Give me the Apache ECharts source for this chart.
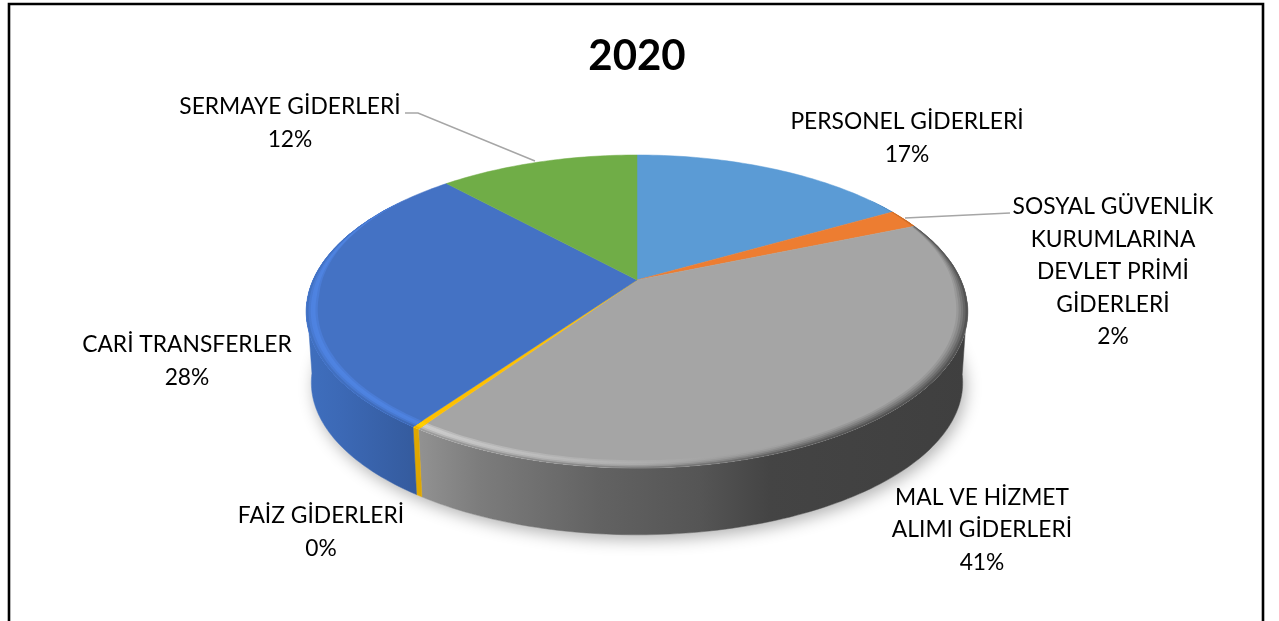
<!DOCTYPE html>
<html>
<head>
<meta charset="utf-8">
<title>2020</title>
<style>
  html, body { margin: 0; padding: 0; background: #fff; }
  #main { width: 1279px; height: 621px; }
</style>
<script src="https://cdn.jsdelivr.net/npm/echarts@6/dist/echarts.min.js"></script>
</head>
<body>
<div id="main"></div>
<script>
const categories = ['PERSONEL GİDERLERİ', 'SOSYAL GÜVENLİK\nKURUMLARINA\nDEVLET PRİMİ\nGİDERLERİ', 'MAL VE HİZMET\nALIMI GİDERLERİ', 'FAİZ GİDERLERİ', 'CARİ TRANSFERLER', 'SERMAYE GİDERLERİ'];
const values = [16.7, 2.0, 40.8, 0.3, 28.4, 11.8];
const faceColors = ['#5B9BD5', '#ED7D31', '#A5A5A5', '#FFC000', '#4472C4', '#70AD47'];
// wall shade along x: [x, colour]
const wallShades = [
  [[300, '#4a80b4'], [970, '#4a80b4']],
  [[300, '#b5601f'], [970, '#b5601f']],
  [[415, '#939393'], [480, '#7c7c7c'], [600, '#626262'], [700, '#555555'], [770, '#444444'], [970, '#3f3f3f']],
  [[300, '#e0a800'], [970, '#d9a300']],
  [[305, '#3f6fbe'], [340, '#3c69b6'], [420, '#345a9c']],
  [[300, '#55883a'], [970, '#55883a']]
];
const highlights = [1.1, 1.1, 1.26, 1.1, 1.16, 1.1];
const labelAnchors = [[907, 138], [1113, 272], [982, 530], [321, 532], [187, 361], [290, 123]];
const leaderLines = [
  [[405, 113], [418, 113], [535, 161]],
  [[905, 218], [1010, 213]]
];

// projected disc: apex of the pie and perspective of the tilted circle
const CX = 637, K = 0.2013;
const TOP = { cy: 280, rx: 324, ry: 150.2 };
const BOTTOM = { cy: 352, rx: 319, ry: 146 };
const BEVEL = 0.04;
// only this part of the side wall faces the viewer (radians from 12 o'clock)
const WALL_FROM = 1.72, WALL_TO = 4.57;

const total = values.reduce((a, b) => a + b, 0);
const angles = [0];
values.forEach(v => angles.push(angles[angles.length - 1] + v / total * Math.PI * 2));

function pt(theta, r, disc) {
  const u = r * Math.sin(theta), v = -r * Math.cos(theta), w = 1 - K * v;
  return [CX + disc.rx * u / w, disc.cy + disc.ry * v / w];
}
function arc(a0, a1, r, disc) {
  const n = Math.max(2, Math.ceil((a1 - a0) / 0.02));
  const pts = [];
  for (let i = 0; i <= n; i++) pts.push(pt(a0 + (a1 - a0) * i / n, typeof r === 'function' ? r(a0 + (a1 - a0) * i / n) : r, disc));
  return pts;
}
function clamp(x) { return Math.max(0, Math.min(1, x)); }
function hex(c) { return [1, 3, 5].map(i => parseInt(c.substr(i, 2), 16)); }
function toHex(a) { return 'rgb(' + a.map(x => Math.round(Math.min(255, x))).join(',') + ')'; }
function mix(a, b, t) { return a.map((x, i) => x + (b[i] - x) * t); }
function shadeAt(list, x) {
  if (x <= list[0][0]) return hex(list[0][1]);
  for (let i = 1; i < list.length; i++) {
    if (x <= list[i][0]) return mix(hex(list[i - 1][1]), hex(list[i][1]), (x - list[i - 1][0]) / (list[i][0] - list[i - 1][0]));
  }
  return hex(list[list.length - 1][1]);
}
function xGradient(x0, x1, stops) {
  return new echarts.graphic.LinearGradient(x0, 0, x1, 0, stops, true);
}

function renderShadow() {
  return {
    type: 'polygon',
    shape: { points: arc(0, Math.PI * 2, 1, BOTTOM) },
    style: { fill: '#fff', shadowColor: 'rgba(0,0,0,0.3)', shadowBlur: 16, shadowOffsetY: 5, shadowOffsetX: 3 },
    silent: true
  };
}

function renderWall(params) {
  const i = params.dataIndex;
  const a0 = Math.max(angles[i], WALL_FROM), a1 = Math.min(angles[i + 1], WALL_TO);
  if (a1 <= a0) return null;
  const pts = arc(a0, a1, 1, TOP).concat(arc(a0, a1, 1, BOTTOM).reverse());
  const shades = wallShades[i];
  const x0 = shades[0][0], x1 = shades[shades.length - 1][0];
  const stops = shades.map(s => ({ offset: (s[0] - x0) / (x1 - x0), color: s[1] }));
  const fill = xGradient(x0, x1, stops);
  return { type: 'polygon', shape: { points: pts }, style: { fill: fill, stroke: fill, lineWidth: 0.5 } };
}

function renderFace(params) {
  const i = params.dataIndex;
  const a0 = angles[i], a1 = angles[i + 1];
  const face = hex(faceColors[i]);
  const children = [{
    type: 'polygon',
    shape: { points: [[CX, TOP.cy]].concat(arc(a0, a1, 1, TOP)) },
    style: { fill: faceColors[i], stroke: faceColors[i], lineWidth: 0.5 }
  }];
  // rim bevel, stacked rings from the inner edge outwards
  const taper = th => clamp((-Math.cos(th) + 0.6) / 0.7);
  const steps = 7;
  for (let s = 0; s < steps; s++) {
    const t = s / (steps - 1);
    const inner = th => 1 - BEVEL * taper(th) * (1 - t);
    const stops = [];
    for (let j = 0; j <= 16; j++) {
      const x = 300 + 670 * j / 16;
      const h = clamp((720 - x) / 300), d = clamp((x - 620) / 200);
      const lit = face.map(c => c * (1 + (highlights[i] - 1) * h * Math.sin(Math.PI * Math.min(1, t * 1.15))));
      const c = mix(lit, shadeAt(wallShades[i], x), Math.pow(t, 4 - 2.8 * d));
      stops.push({ offset: j / 16, color: toHex(c) });
    }
    children.push({
      type: 'polygon',
      shape: { points: arc(a0, a1, inner, TOP).concat(arc(a0, a1, 1, TOP).reverse()) },
      style: { fill: xGradient(300, 970, stops) }
    });
  }
  return { type: 'group', children: children };
}

function renderLabel(params, api) {
  const i = params.dataIndex;
  return {
    type: 'text',
    x: labelAnchors[i][0],
    y: labelAnchors[i][1],
    style: {
      text: categories[i] + '\n' + Math.round(api.value(0)) + '%',
      fill: '#000',
      font: '22.8px Lato, "Open Sans", sans-serif',
      lineHeight: 32.5,
      textAlign: 'center',
      textVerticalAlign: 'middle'
    }
  };
}

const myChart = echarts.init(document.getElementById('main'), null, { renderer: 'canvas' });
const option = {
  animation: false,
  backgroundColor: '#fff',
  title: {
    text: '2020',
    left: 632,
    top: 30,
    textAlign: 'center',
    textStyle: { fontFamily: 'Lato, sans-serif', fontWeight: 'bold', fontSize: 42, color: '#000' }
  },
  graphic: [
    {
      type: 'polyline',
      shape: { points: [[9, 625], [9, 4], [1263, 4], [1263, 625]] },
      style: { stroke: '#000', lineWidth: 2.6, fill: null },
      silent: true
    }
  ].concat(leaderLines.map(p => ({
    type: 'polyline',
    shape: { points: p },
    style: { stroke: '#a6a6a6', lineWidth: 1.5, fill: null },
    silent: true,
    z: 5
  }))),
  series: [
    { type: 'custom', coordinateSystem: 'none', z: 1, data: [0], renderItem: renderShadow, silent: true },
    { type: 'custom', coordinateSystem: 'none', z: 2, data: values, renderItem: renderWall, silent: true },
    { type: 'custom', coordinateSystem: 'none', z: 3, data: values, renderItem: renderFace, silent: true },
    { type: 'custom', coordinateSystem: 'none', z: 4, data: values, renderItem: renderLabel, silent: true }
  ]
};
myChart.setOption(option);
</script>
</body>
</html>
